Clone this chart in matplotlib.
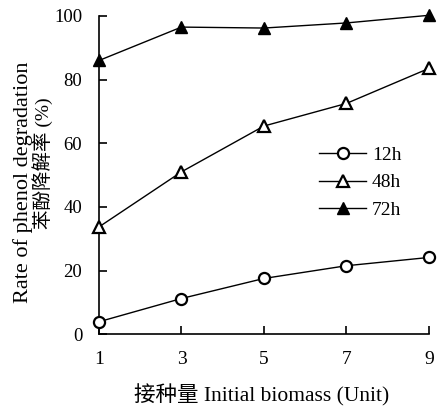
import numpy as np
import matplotlib.pyplot as plt

# data
biomass = [1, 3, 5, 7, 9]
rate_12h = [3.9, 11.2, 17.5, 21.5, 24.1]
rate_48h = [33.7, 51.0, 65.4, 72.5, 83.5]
rate_72h = [86.0, 96.5, 96.2, 97.8, 100.2]
labels = ['12h', '48h', '72h']

serif = ['Liberation Serif', 'DejaVu Serif']
cjk = ['Liberation Serif', 'Noto Sans CJK SC']

fig = plt.figure(figsize=(4.38, 4.09), dpi=100)
ax = fig.add_axes([0.226, 0.183, 0.753, 0.778])

kw = dict(color='black', lw=1.0, clip_on=False, zorder=3)
l12, = ax.plot(biomass, rate_12h, marker='o', ms=8, mfc='white', mec='black', mew=1.6, **kw)
l48, = ax.plot(biomass, rate_48h, marker='^', ms=8, mfc='white', mec='black', mew=1.6, **kw)
l72, = ax.plot(biomass, rate_72h, marker='^', ms=9, mfc='black', mec='black', **kw)

ax.set_xlim(1, 9)
ax.set_ylim(0, 100)
ax.set_xticks(biomass)
ax.set_yticks(np.arange(0, 101, 20))
for s in ['top', 'right']:
    ax.spines[s].set_visible(False)
for s in ['left', 'bottom']:
    ax.spines[s].set_linewidth(1.2)
ax.tick_params(direction='in', length=6, width=1.2, labelsize=14)
for t in ax.get_xticklabels() + ax.get_yticklabels():
    t.set_family(serif)
ax.tick_params(axis='x', pad=12)
ax.tick_params(axis='y', pad=12, labelsize=13.5)

leg = ax.legend([l12, l48, l72], labels, loc='upper left', bbox_to_anchor=(0.615, 0.645),
                frameon=False, handlelength=2.4, handletextpad=0.3, labelspacing=0.5,
                prop={'family': serif, 'size': 14})

fig.text(0.052, 0.555, 'Rate of phenol degradation', rotation=90, ha='center', va='center',
         family=serif, size=16)
fig.text(0.098, 0.6, '苯酚降解率 (%)', rotation=90, ha='center', va='center',
         family=cjk, size=14)
fig.text(0.597, 0.005, '接种量 Initial biomass (Unit)', ha='center', va='bottom',
         family=cjk, size=15.5)

fig.savefig('out.png', dpi=100)
